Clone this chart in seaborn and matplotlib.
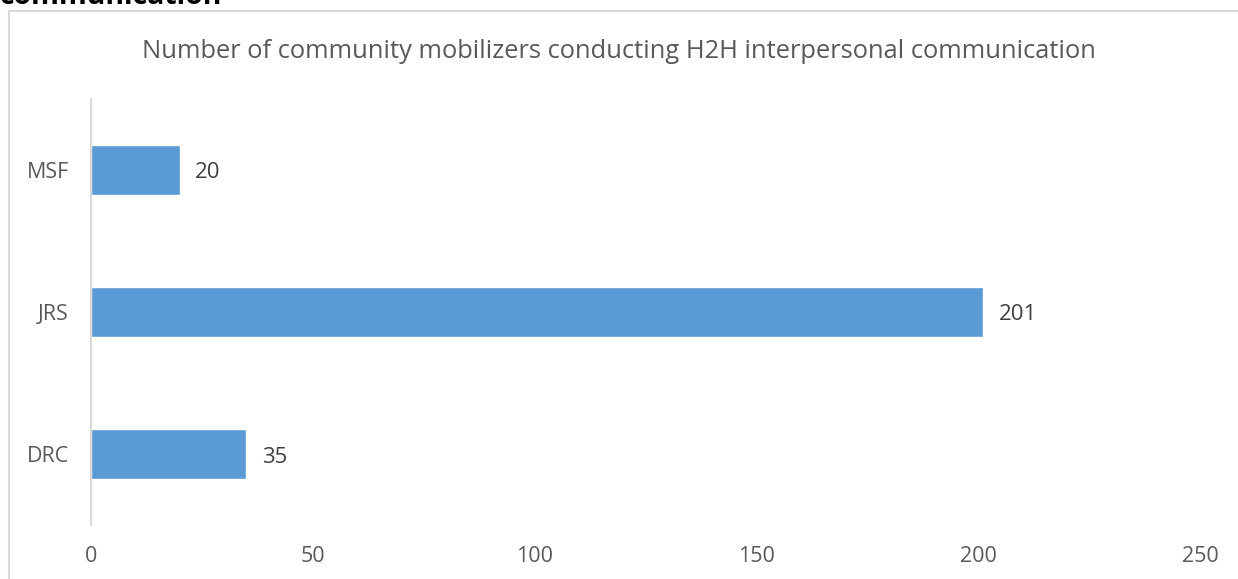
import pandas as pd
import matplotlib.pyplot as plt
import seaborn as sns
from matplotlib.patches import Rectangle

# Data
orgs = ['MSF', 'JRS', 'DRC']
mobilizers = [20, 201, 35]
x_ticks = [0, 50, 100, 150, 200, 250]

df = pd.DataFrame({'Organisation': orgs, 'Mobilizers': mobilizers})

sns.set_style('white')
plt.rcParams['font.family'] = ['Open Sans', 'DejaVu Sans']

fig = plt.figure(figsize=(12.38, 5.79), dpi=100)
ax = fig.add_axes([0.0735, 0.0933, 0.8965, 0.736])

sns.barplot(data=df, x='Mobilizers', y='Organisation', color='#5B9BD5',
            saturation=1, width=0.35, ax=ax)

for container in ax.containers:
    labels = ax.bar_label(container, padding=11, fontsize=16, color='#404040')
    for lbl in labels:
        lbl.xyann = (11, -2.2)

ax.set_xlim(0, 250)
ax.set_xticks(x_ticks)
ax.set_xlabel('')
ax.set_ylabel('')
ax.tick_params(axis='both', length=0, labelsize=15.5, labelcolor='#595959')
ax.tick_params(axis='x', pad=15)
ax.tick_params(axis='y', pad=16)

for side in ['top', 'right', 'bottom']:
    ax.spines[side].set_visible(False)
ax.spines['left'].set_color('#d9d9d9')
ax.spines['left'].set_linewidth(1.5)

fig.text(0.5, 1 - 51 / 579, 'Number of community mobilizers conducting H2H interpersonal communication',
         ha='center', va='center', fontsize=18.4, color='#595959')

# chart area border (cropped screenshot)
fig.patches.append(Rectangle((9 / 1238, -0.1), 1.2, 1 - 11 / 579 + 0.1, transform=fig.transFigure,
                             fill=False, edgecolor='#d9d9d9', linewidth=1.5))

# heading text cut off at the top of the screenshot
fig.text(0.0, 1 - 4 / 579, 'communication', ha='left', va='baseline',
         fontsize=20.4, fontweight='bold', color='black')

fig.savefig('out.png', dpi=100)
